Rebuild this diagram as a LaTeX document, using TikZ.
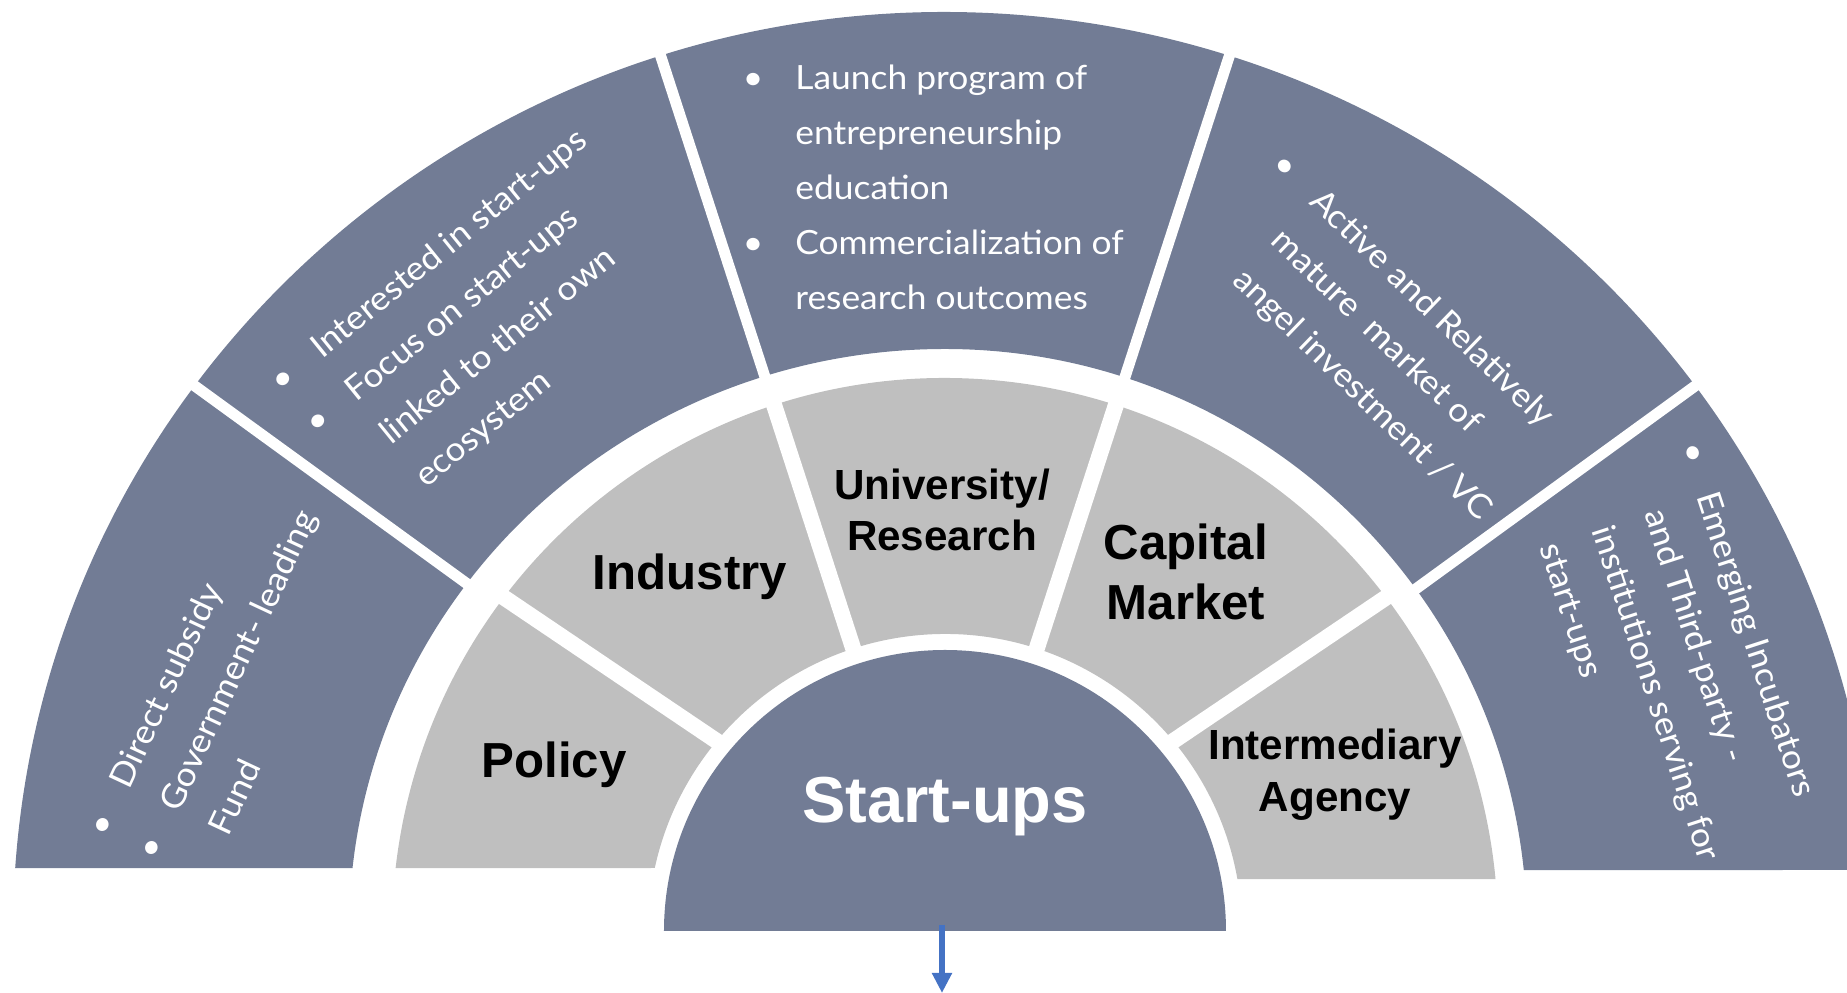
\documentclass[tikz,border=0pt]{standalone}
\usepackage{fontspec}
\setmainfont{Liberation Sans}
\newfontfamily\thinfont{Lato}[FakeStretch=1.06]
\usetikzlibrary{arrows.meta}

\definecolor{slate}{RGB}{114,124,149}
\definecolor{ringgray}{RGB}{191,191,191}
\definecolor{flowblue}{RGB}{68,114,196}
\newcommand{\itembul}{\llap{\makebox[1.05cm][l]{\textbullet}}}

\begin{document}
\begin{tikzpicture}[
    x=0.02cm, y=0.02cm,
    outerring/.style={fill=slate},
    innerring/.style={fill=ringgray},
    divider/.style={draw=white, line width=#1},
    note/.style={text=white, align=left, anchor=west, inner sep=0pt, font=\thinfont\fontsize{19}{31.3}\selectfont},
    actor/.style={align=center, inner sep=0pt, font=\bfseries\fontsize{28}{34}\selectfont},
    flow/.style={draw=flowblue, line width=0.11cm, -{Triangle[length=0.4cm, width=0.38cm]}}
]
\useasboundingbox (-945,-62) rectangle (902,931);
\clip (-945,-62) rectangle (902,931);

% 外环
\fill[outerring] ({180-asin(63/919)}:932 and 919)
    arc[start angle={180-asin(63/919)}, end angle={asin(61/919)}, x radius=932, y radius=919]
    -- ({asin(61/582)}:582) arc[start angle={asin(61/582)}, end angle=90, radius=582]
    arc[start angle=90, end angle={180-asin(63/582)}, x radius=596, y radius=582] -- cycle;
\foreach \a in {36,72,108,144}
    \draw[divider=0.22cm] (\a:575) -- (\a:945);

% 内环
\fill[innerring] ({180-asin(63/553)}:553) arc[start angle={180-asin(63/553)}, end angle={asin(52/553)}, radius=553]
    -- ({asin(52/297)}:297) arc[start angle={asin(52/297)}, end angle={180-asin(63/297)}, radius=297] -- cycle;
\draw[divider=0.32cm] (140:285) -- (143:570);
\draw[divider=0.32cm] (108:285) -- (108:570);
\draw[divider=0.32cm] (72:285) -- (72:570);
\draw[divider=0.32cm] (40:285) -- (37:570);

% 中心
\fill[outerring] (-281,0) arc[start angle=180, end angle=0, radius=281] -- cycle;
\node[actor, text=white, font=\bfseries\fontsize{37}{40}\selectfont] (startups) at (0,124) {Start-ups};

% 内环文字
\node[actor] (policy) at (-391,166) {Policy};
\node[actor] (industry) at (-255,354) {Industry};
\node[actor, font=\bfseries\fontsize{24}{29}\selectfont] (uni_research) at (-3,421) {University/\\Research};
\node[actor] (capital_mkt) at (241,359) {Capital\\Market};
\node[actor, font=\bfseries\fontsize{24}{29.5}\selectfont] (agency) at (390,156) {Intermediary\\Agency};

% 外环文字
\node[note, rotate=65] (note_gov) at (-777,122) {\itembul Direct subsidy\\\itembul Government- leading\\Fund};
\node[note, rotate=39] (note_industry) at (-577,514) {\itembul Interested in start-ups\\\itembul Focus on start-ups\\linked to their own\\ecosystem};
\node[note] (note_uni) at (-150,744) {\itembul Launch program of\\entrepreneurship\\education\\\itembul Commercialization of\\research outcomes};
\node[note, rotate=-44] (note_capital) at (331,695) {\itembul Active and Relatively\\mature\ \ market of\\angel investment / VC};
\node[note, rotate=-72] (note_agency) at (682,412) {\itembul Emerging Incubators\\and Third-party -\\institutions serving for\\start-ups};

% 箭头
\coordinate (arrow_start) at (-3,6);
\coordinate (arrow_end) at (-3,-62);
\draw[flow] (arrow_start) -- (arrow_end);

\end{tikzpicture}
\end{document}
